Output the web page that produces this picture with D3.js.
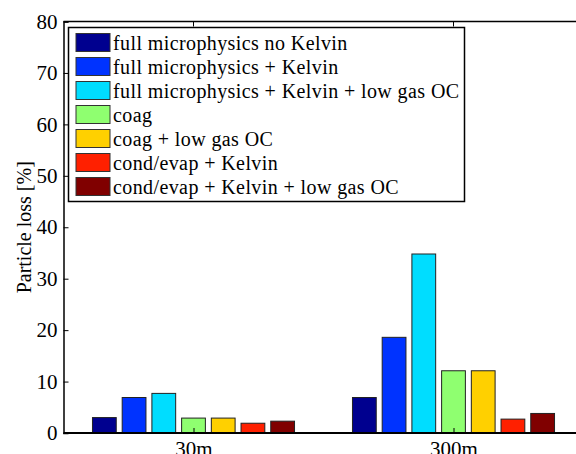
<!DOCTYPE html>
<html lang="en">
<head>
	<meta charset="utf-8">
	<title>Particle loss</title>
	<script src="https://d3js.org/d3.v7.min.js"></script>
<style>
	body { margin: 0; background: #fff; }
</style>
</head>
<body>
<script>
	// data
	var categories = ["30m", "300m"];
	var seriesNames = [
		"full microphysics no Kelvin",
		"full microphysics + Kelvin",
		"full microphysics + Kelvin + low gas OC",
		"coag",
		"coag + low gas OC",
		"cond/evap + Kelvin",
		"cond/evap + Kelvin + low gas OC"
	];
	var values30m  = [3.0, 6.9, 7.7, 2.9, 2.9, 1.9, 2.3];
	var values300m = [6.9, 18.6, 34.8, 12.1, 12.1, 2.7, 3.8];
	var colors = ["#00008f", "#0033ff", "#00ddff", "#8fff70", "#ffd000", "#ff2000", "#800000"];
	var yTicks = [0, 10, 20, 30, 40, 50, 60, 70, 80];

	var serif = "'Liberation Serif', 'Times New Roman', serif";
	var width = 576, height = 454;
	var plotLeft = 63.5, plotTop = 21.5, plotBottom = 433;

	var svg = d3.select("body").append("svg")
		.attr("width", width)
		.attr("height", height);

	// x: category positions 1, 2 with xlim [0.5, 2.5], plot runs past the picture edge
	var x = d3.scaleLinear().domain([0.5, 2.5]).range([plotLeft, 583.5]);
	var y = d3.scaleLinear().domain([0, 80]).range([plotBottom, plotTop]);

	var nS = seriesNames.length;
	var groupW = 0.8;
	var step = groupW / nS;
	var barW = step * 0.8;

	var rows = [];
	[values30m, values300m].forEach(function(vals, ci) {
		vals.forEach(function(v, si) {
			rows.push({cat: ci + 1, s: si, v: v});
		});
	});

	svg.append("g").selectAll("rect")
		.data(rows)
		.enter().append("rect")
		.attr("x", d => x(d.cat + (d.s - (nS - 1) / 2) * step - barW / 2))
		.attr("width", d => x(barW) - x(0))
		.attr("y", d => y(d.v))
		.attr("height", d => y(0) - y(d.v))
		.attr("fill", d => colors[d.s])
		.attr("stroke", "#222")
		.attr("stroke-width", 1);

	// axes box
	svg.append("line")
		.attr("x1", plotLeft).attr("x2", width)
		.attr("y1", plotTop).attr("y2", plotTop)
		.attr("stroke", "#000").attr("stroke-width", 1.5);
	svg.append("line")
		.attr("x1", plotLeft).attr("x2", width)
		.attr("y1", plotBottom).attr("y2", plotBottom)
		.attr("stroke", "#000").attr("stroke-width", 2);

	var yAxis = svg.append("g")
		.attr("transform", "translate(" + plotLeft + ",0)")
		.call(d3.axisLeft(y).tickValues(yTicks).tickSize(-5).tickPadding(6));
	yAxis.select(".domain").attr("stroke-width", 1.5);
	yAxis.selectAll(".tick text").style("font-family", serif).style("font-size", "21px");

	var xAxis = svg.append("g")
		.attr("transform", "translate(0," + plotBottom + ")")
		.call(d3.axisBottom(x).tickValues([1, 2]).tickFormat((d, i) => categories[i]).tickSize(-5).tickPadding(3));
	xAxis.select(".domain").remove();
	xAxis.selectAll(".tick text").attr("dy", "0.95em")
		.style("font-family", serif).style("font-size", "21px");

	// top ticks
	svg.append("g").selectAll("line")
		.data([1, 2])
		.enter().append("line")
		.attr("x1", d => x(d)).attr("x2", d => x(d))
		.attr("y1", plotTop).attr("y2", plotTop + 5)
		.attr("stroke", "#000");

	svg.append("text")
		.attr("transform", "translate(31," + ((plotTop + plotBottom) / 2) + ") rotate(-90)")
		.attr("text-anchor", "middle")
		.style("font-family", serif)
		.style("font-size", "20px")
		.text("Particle loss [%]");

	// legend
	var legend = svg.append("g").attr("class", "legend");
	legend.append("rect")
		.attr("x", 68.5).attr("y", 27.5)
		.attr("width", 396).attr("height", 174)
		.attr("fill", "#fff")
		.attr("stroke", "#000").attr("stroke-width", 1.5);

	var item = legend.selectAll("g.item")
		.data(seriesNames)
		.enter().append("g")
		.attr("class", "item")
		.attr("transform", (d, i) => "translate(0," + (33.5 + i * 24) + ")");
	item.append("rect")
		.attr("x", 76).attr("y", 0)
		.attr("width", 34).attr("height", 18)
		.attr("fill", (d, i) => colors[i])
		.attr("stroke", "#333");
	item.append("text")
		.attr("x", 113).attr("y", 16)
		.style("font-family", serif)
		.style("font-size", "20px")
		.style("letter-spacing", "0.4px")
		.text(d => d);
</script>
</body>
</html>
